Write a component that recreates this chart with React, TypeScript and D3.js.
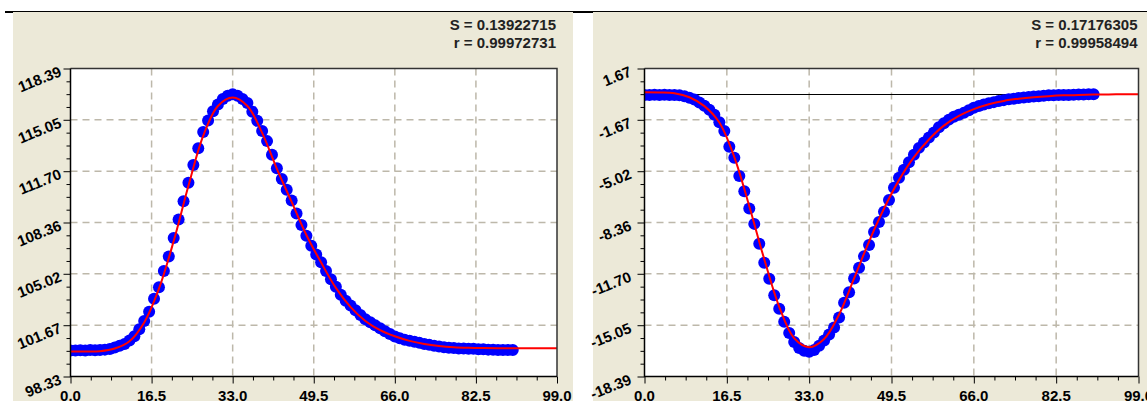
import React, { useEffect, useRef } from "react";
import * as d3 from "d3";

// ---------- data ----------
const xTickLabels = ["0.0", "16.5", "33.0", "49.5", "66.0", "82.5", "99.0"];
const leftYTickLabels = ["98.33", "101.67", "105.02", "108.36", "111.70", "115.05", "118.39"];
const rightYTickLabels = ["-18.39", "-15.05", "-11.70", "-8.36", "-5.02", "-1.67", "1.67"];

const sampleX = [
  0, 1, 2, 3, 4, 5, 6, 7, 8, 9, 10, 11, 12, 13, 14, 15, 16, 17, 18, 19, 20,
  21, 22, 23, 24, 25, 26, 27, 28, 29, 30, 31, 32, 33, 34, 35, 36, 37, 38, 39, 40,
  41, 42, 43, 44, 45, 46, 47, 48, 49, 50, 51, 52, 53, 54, 55, 56, 57, 58, 59, 60,
  61, 62, 63, 64, 65, 66, 67, 68, 69, 70, 71, 72, 73, 74, 75, 76, 77, 78, 79, 80,
  81, 82, 83, 84, 85, 86, 87, 88, 89, 90,
];

const leftValues = [
  100.03, 100.02, 100.04, 100.03, 100.05, 100.04, 100.06, 100.08, 100.12, 100.22, 100.33,
  100.45, 100.68, 100.95, 101.4, 101.95, 102.55, 103.4, 104.15, 105.2, 106.15,
  107.35, 108.55, 109.75, 110.95, 112.1, 113.2, 114.25, 115.0, 115.6, 116.05,
  116.4, 116.62, 116.72, 116.62, 116.4, 116.15, 115.58, 114.98, 114.32, 113.66,
  112.77, 111.9, 111.2, 110.5, 109.8, 108.95, 108.2, 107.5, 106.85, 106.27,
  105.77, 105.2, 104.66, 104.17, 103.65, 103.27, 102.96, 102.65, 102.33, 102.06,
  101.86, 101.66, 101.47, 101.27, 101.1, 100.93, 100.82, 100.73, 100.66, 100.59,
  100.52, 100.45, 100.39, 100.34, 100.29, 100.24, 100.21, 100.18, 100.16, 100.15,
  100.14, 100.13, 100.11, 100.1, 100.08, 100.07, 100.06, 100.06, 100.06, 100.06,
];

const rightValues = [
  -0.05, -0.05, -0.04, -0.05, -0.04, -0.05, -0.06, -0.08, -0.14, -0.23, -0.35,
  -0.54, -0.76, -1.01, -1.34, -1.83, -2.4, -3.42, -4.15, -5.33, -6.33,
  -7.45, -8.45, -9.75, -10.98, -12.02, -13.1, -13.97, -14.83, -15.55, -16.14,
  -16.53, -16.71, -16.78, -16.66, -16.38, -16.05, -15.66, -15.2, -14.55, -13.58,
  -12.9, -12.0, -11.3, -10.55, -9.82, -8.98, -8.32, -7.66, -6.9, -6.1,
  -5.45, -4.92, -4.43, -3.94, -3.5, -3.15, -2.83, -2.5, -2.16, -1.9,
  -1.66, -1.47, -1.34, -1.22, -1.05, -0.89, -0.78, -0.68, -0.6, -0.52,
  -0.45, -0.39, -0.34, -0.3, -0.25, -0.22, -0.19, -0.15, -0.13, -0.11,
  -0.08, -0.07, -0.06, -0.05, -0.05, -0.04, -0.03, -0.02, -0.01, 0.0,
];

const fitX = [
  0, 3, 6, 9, 12, 15, 18, 21, 24, 27, 30, 33, 36, 39, 42, 45, 48, 51, 54, 57,
  60, 63, 66, 69, 72, 75, 78, 81, 84, 87, 90, 93, 96, 99,
];

const leftFit = [
  99.96, 99.96, 99.98, 100.15, 100.62, 101.85, 104.05, 107.15, 110.75, 114.0,
  115.95, 116.5, 115.95, 114.2, 111.85, 109.7, 107.55, 105.75, 104.1, 102.85,
  101.95, 101.35, 100.95, 100.65, 100.45, 100.32, 100.24, 100.2, 100.18, 100.17,
  100.17, 100.17, 100.17, 100.17,
];

const rightFit = [
  0.12, 0.11, 0.06, -0.2, -0.78, -1.85, -4.1, -7.3, -10.75, -13.85,
  -15.9, -16.48, -15.95, -14.35, -12.0, -9.6, -7.45, -5.6, -4.1, -2.95,
  -2.05, -1.42, -0.98, -0.66, -0.44, -0.3, -0.2, -0.13, -0.08, -0.05,
  -0.03, -0.02, -0.01, 0.0,
];

const leftStats = ["S = 0.13922715", "r = 0.99972731"];
const rightStats = ["S = 0.17176305", "r = 0.99958494"];

// ---------- style ----------
const BEIGE = "#ECE9D8";
const GRID = "#BDB8AA";
const FONT = "'Liberation Sans', Arial, sans-serif";

type PanelCfg = {
  id: string;
  bx0: number;
  bx1: number;
  px0: number;
  px1: number;
  py0: number;
  py1: number;
  yTicks: string[];
  values: number[];
  fit: number[];
  stats: string[];
  zeroLine: boolean;
  labelDx: number;
};

function Panel({ cfg }: { cfg: PanelCfg }) {
  const ref = useRef<SVGGElement>(null);
  useEffect(() => {
    const g = d3.select(ref.current!);
    g.selectAll("*").remove();
    const xMajor = xTickLabels.map(Number);
    const yMajor = cfg.yTicks.map(Number);
    const x = d3.scaleLinear().domain([xMajor[0], xMajor[xMajor.length - 1]]).range([cfg.px0, cfg.px1]);
    const y = d3.scaleLinear().domain([yMajor[0], yMajor[yMajor.length - 1]]).range([cfg.py1, cfg.py0]);

    // panel background
    g.append("rect")
      .attr("x", cfg.bx0).attr("y", 12)
      .attr("width", cfg.bx1 - cfg.bx0).attr("height", 401 - 12)
      .attr("fill", BEIGE);
    // plot background
    g.append("rect")
      .attr("x", cfg.px0).attr("y", cfg.py0)
      .attr("width", cfg.px1 - cfg.px0).attr("height", cfg.py1 - cfg.py0)
      .attr("fill", "#fff");

    const clipId = "clip-" + cfg.id;
    g.append("clipPath").attr("id", clipId)
      .append("rect")
      .attr("x", cfg.px0).attr("y", cfg.py0)
      .attr("width", cfg.px1 - cfg.px0).attr("height", cfg.py1 - cfg.py0);

    // grid
    const grid = g.append("g").attr("stroke", GRID).attr("stroke-width", 1.5).attr("stroke-dasharray", "7,5");
    xMajor.slice(1, -1).forEach((v) => {
      grid.append("line").attr("x1", x(v)).attr("x2", x(v)).attr("y1", cfg.py0).attr("y2", cfg.py1);
    });
    yMajor.slice(1, -1).forEach((v) => {
      grid.append("line").attr("x1", cfg.px0).attr("x2", cfg.px1).attr("y1", y(v)).attr("y2", y(v));
    });

    if (cfg.zeroLine) {
      g.append("line")
        .attr("x1", cfg.px0).attr("x2", cfg.px1)
        .attr("y1", Math.round(y(0)) + 0.5).attr("y2", Math.round(y(0)) + 0.5)
        .attr("stroke", "#000").attr("stroke-width", 1);
    }

    const plot = g.append("g").attr("clip-path", `url(#${clipId})`);
    plot.selectAll("circle")
      .data(sampleX.map((xv, i) => [xv, cfg.values[i]]))
      .enter().append("circle")
      .attr("cx", (d) => x(d[0])).attr("cy", (d) => y(d[1]))
      .attr("r", 6).attr("fill", "#0000FF");

    const line = d3.line<number>()
      .x((_, i) => x(fitX[i]))
      .y((d) => y(d))
      .curve(d3.curveCatmullRom.alpha(0.5));
    plot.append("path")
      .attr("d", line(cfg.fit)!)
      .attr("fill", "none").attr("stroke", "#FF0000").attr("stroke-width", 2);

    // frame (top & right)
    g.append("path")
      .attr("d", `M${cfg.px0},${cfg.py0}H${cfg.px1}V${cfg.py1}`)
      .attr("fill", "none").attr("stroke", "#333").attr("stroke-width", 1.5);

    // minor ticks
    const minorX: number[] = [];
    for (let i = 0; i < xMajor.length - 1; i++) {
      for (let k = 1; k < 4; k++) minorX.push(xMajor[i] + ((xMajor[i + 1] - xMajor[i]) * k) / 4);
    }
    const minorY: number[] = [];
    for (let i = 0; i < yMajor.length - 1; i++) {
      for (let k = 1; k < 4; k++) minorY.push(yMajor[i] + ((yMajor[i + 1] - yMajor[i]) * k) / 4);
    }

    const axG = g.append("g");
    axG.append("g").attr("transform", `translate(${cfg.px0},0)`)
      .call(d3.axisLeft(y).tickValues(minorY).tickSize(4).tickFormat(() => ""));
    axG.append("g").attr("transform", `translate(${cfg.px0},0)`)
      .call(d3.axisLeft(y).tickValues(yMajor).tickSize(7).tickFormat(() => ""));
    axG.append("g").attr("transform", `translate(0,${cfg.py1})`)
      .call(d3.axisBottom(x).tickValues(minorX).tickSize(4).tickFormat(() => ""));
    axG.append("g").attr("transform", `translate(0,${cfg.py1})`)
      .call(d3.axisBottom(x).tickValues(xMajor).tickSize(7).tickFormat(() => ""));
    axG.selectAll(".domain").remove();
    axG.selectAll("line").attr("stroke", "#000");

    // axis lines
    g.append("path")
      .attr("d", `M${cfg.px0},${cfg.py0}V${cfg.py1}H${cfg.px1}`)
      .attr("fill", "none").attr("stroke", "#000").attr("stroke-width", 1.5);

    // y labels
    cfg.yTicks.forEach((lab) => {
      const ax = cfg.px0 - cfg.labelDx;
      const ay = y(Number(lab)) + 7;
      g.append("text")
        .attr("transform", `translate(${ax},${ay}) rotate(-22)`)
        .attr("text-anchor", "end")
        .attr("font-family", FONT).attr("font-weight", "bold").attr("font-size", 15)
        .attr("fill", "#000")
        .text(lab);
    });
    // x labels
    xTickLabels.forEach((lab) => {
      g.append("text")
        .attr("x", x(Number(lab))).attr("y", 401)
        .attr("text-anchor", "middle")
        .attr("font-family", FONT).attr("font-weight", "bold").attr("font-size", 15)
        .attr("fill", "#000")
        .text(lab);
    });
    // stats
    cfg.stats.forEach((s, i) => {
      g.append("text")
        .attr("x", cfg.px1 - 1).attr("y", 30 + i * 18)
        .attr("text-anchor", "end")
        .attr("font-family", FONT).attr("font-weight", "bold").attr("font-size", 15)
        .attr("fill", "#222")
        .text(s);
    });
  }, [cfg]);
  return <g ref={ref} />;
}

const leftCfg: PanelCfg = {
  id: "left", bx0: 13, bx1: 573, px0: 70.5, px1: 557, py0: 68.5, py1: 376.5,
  yTicks: leftYTickLabels, values: leftValues, fit: leftFit, stats: leftStats,
  zeroLine: false, labelDx: 8,
};
const rightCfg: PanelCfg = {
  id: "right", bx0: 593, bx1: 1147, px0: 644.5, px1: 1138.5, py0: 68.5, py1: 376.5,
  yTicks: rightYTickLabels, values: rightValues, fit: rightFit, stats: rightStats,
  zeroLine: true, labelDx: 12,
};

export default function App() {
  return (
    <svg
      width={1147}
      height={401}
      style={{ position: "absolute", left: 0, top: 0, background: "#fff" }}
    >
      <Panel cfg={leftCfg} />
      <Panel cfg={rightCfg} />
      <line x1={5} x2={1147} y1={11.5} y2={11.5} stroke="#000" strokeWidth={1} />
      <line x1={5} x2={13} y1={12} y2={12} stroke="#000" strokeWidth={2} />
      <line x1={573} x2={593} y1={12} y2={12} stroke="#000" strokeWidth={2} />
    </svg>
  );
}
